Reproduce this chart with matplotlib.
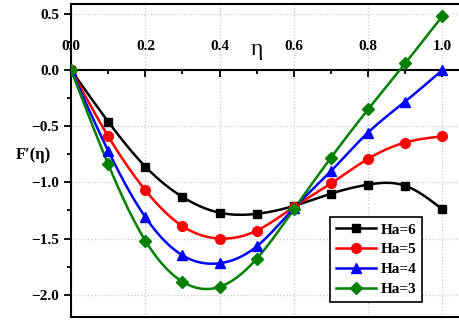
import matplotlib
matplotlib.use("Agg")
import matplotlib.pyplot as plt
import numpy as np
from matplotlib.ticker import MultipleLocator

eta = [0.0, 0.1, 0.2, 0.3, 0.4, 0.5, 0.6, 0.7, 0.8, 0.9, 1.0]
ha6 = [0.0, -0.46, -0.86, -1.13, -1.27, -1.28, -1.21, -1.10, -1.02, -1.03, -1.24]
ha5 = [0.0, -0.59, -1.07, -1.39, -1.50, -1.43, -1.22, -1.01, -0.79, -0.645, -0.59]
ha4 = [0.0, -0.72, -1.31, -1.65, -1.72, -1.57, -1.23, -0.90, -0.556, -0.28, 0.0]
ha3 = [0.0, -0.84, -1.52, -1.885, -1.93, -1.68, -1.24, -0.78, -0.35, 0.06, 0.48]
labels = ["Ha=6", "Ha=5", "Ha=4", "Ha=3"]


def smooth(x, y, n=300):
    # natural cubic spline through the points, only for drawing the line
    x = np.asarray(x, float); y = np.asarray(y, float)
    h = np.diff(x); m = len(x)
    A = np.zeros((m, m)); b = np.zeros(m)
    A[0, 0] = A[-1, -1] = 1
    for i in range(1, m - 1):
        A[i, i - 1], A[i, i], A[i, i + 1] = h[i - 1], 2 * (h[i - 1] + h[i]), h[i]
        b[i] = 3 * ((y[i + 1] - y[i]) / h[i] - (y[i] - y[i - 1]) / h[i - 1])
    c = np.linalg.solve(A, b)
    xs = np.linspace(x[0], x[-1], n)
    k = np.clip(np.searchsorted(x, xs) - 1, 0, m - 2)
    d = xs - x[k]
    bb = (y[k + 1] - y[k]) / h[k] - h[k] * (2 * c[k] + c[k + 1]) / 3
    dd = (c[k + 1] - c[k]) / (3 * h[k])
    return xs, y[k] + bb * d + c[k] * d ** 2 + dd * d ** 3


plt.rcParams["font.family"] = "Liberation Serif"
plt.rcParams["font.weight"] = "bold"

fig = plt.figure(figsize=(4.59, 3.2), dpi=100)
ax = fig.add_axes([0.155, 0.009, 0.845, 0.979])

styles = [("black", "s", 6), ("red", "o", 7), ("blue", "^", 7), ("green", "D", 6)]
for ys, lab, (col, mk, ms) in zip([ha6, ha5, ha4, ha3], labels, styles):
    xs, yy = smooth(eta, ys)
    ax.plot(xs, yy, color=col, lw=1.8, zorder=3)
    ax.plot(eta, ys, ls="none", marker=mk, ms=ms, color=col, zorder=4)
    ax.plot([], [], color=col, lw=1.8, marker=mk, ms=ms, label=lab)

ax.set_xlim(0, 1.045)
ax.set_ylim(-2.2, 0.59)
ax.xaxis.set_major_locator(MultipleLocator(0.2))
ax.xaxis.set_minor_locator(MultipleLocator(0.1))
ax.yaxis.set_major_locator(MultipleLocator(0.5))
ax.yaxis.set_minor_locator(MultipleLocator(0.25))
ax.set_xticks([0.0, 0.2, 0.4, 0.6, 0.8, 1.0])
ax.set_xticklabels(["0.0", "0.2", "0.4", "0.6", "0.8", "1.0"])

# x axis sits on F'=0 with labels above it
ax.spines["top"].set_position(("data", 0))
ax.xaxis.set_ticks_position("top")
ax.spines["right"].set_visible(False)
for s in ["top", "bottom", "left"]:
    ax.spines[s].set_linewidth(1.5)
ax.plot([0, 1], [1, 1], transform=ax.transAxes, color="black", lw=1.5, clip_on=False)
ax.tick_params(axis="x", which="both", direction="in", width=1.3, labelsize=11, pad=12)
ax.tick_params(axis="x", which="major", length=5)
ax.tick_params(axis="x", which="minor", length=3)
ax.tick_params(axis="y", which="both", direction="out", width=1.3, labelsize=11)
ax.tick_params(axis="y", which="major", length=5)
ax.tick_params(axis="y", which="minor", length=3)

ax.grid(True, which="major", ls=":", color="#c8c8c8", lw=0.9)
ax.set_axisbelow(True)

ax.text(0.5, 0.18, "η", fontsize=17, fontweight="normal", ha="center", va="center")
fig.text(0.035, 0.515, "F′(η)", fontsize=12, fontweight="bold", ha="left", va="center")

leg = ax.legend(loc="lower right", bbox_to_anchor=(0.905, 0.048), borderaxespad=0,
                fontsize=11, handlelength=2.6, fancybox=False, framealpha=1,
                edgecolor="black", borderpad=0.4, labelspacing=0.4, handletextpad=0.3)
leg.get_frame().set_linewidth(1.2)

fig.savefig("out.png", dpi=100)
